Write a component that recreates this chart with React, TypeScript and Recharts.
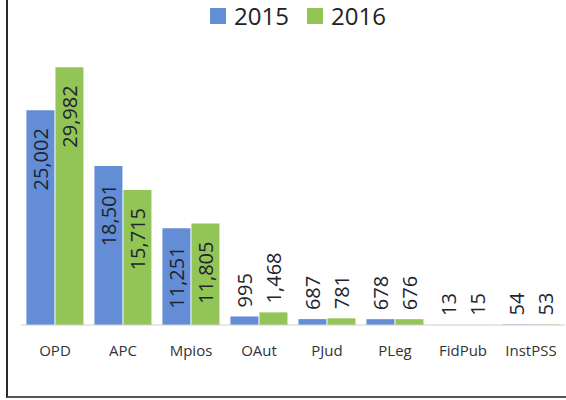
import { Bar, BarChart, LabelList, Legend, XAxis, YAxis } from "recharts";

const categories = ["OPD", "APC", "Mpios", "OAut", "PJud", "PLeg", "FidPub", "InstPSS"];
const values2015 = [25002, 18501, 11251, 995, 687, 678, 13, 54];
const values2016 = [29982, 15715, 11805, 1468, 781, 676, 15, 53];

const BLUE = "#638ed6";
const GREEN = "#93c456";
const FONT = "'Open Sans', sans-serif";

const data = categories.map((name, i) => ({
  name,
  y2015: values2015[i],
  y2016: values2016[i],
}));

function ValueLabel(props: any) {
  const { x, y, width, height, value } = props;
  const cx = x + width / 2;
  const inside = height > 60;
  const ty = inside ? y + 18 : y - 9;
  return (
    <text
      x={cx}
      y={ty}
      transform={`rotate(-90 ${cx} ${ty})`}
      textAnchor={inside ? "end" : "start"}
      dominantBaseline="central"
      fontFamily={FONT}
      fontSize={20}
      fill="#1e2430"
    >
      {Number(value).toLocaleString("en-US")}
    </text>
  );
}

function LegendContent(props: any) {
  const { payload } = props;
  return (
    <div style={{ display: "flex", justifyContent: "center", alignItems: "center", fontFamily: FONT, paddingLeft: 30 }}>
      {payload.map((p: any, i: number) => (
        <div key={p.value} style={{ display: "flex", alignItems: "center", marginLeft: i > 0 ? 18 : 0 }}>
          <span style={{ width: 16, height: 16, background: p.color, display: "inline-block", marginRight: 8 }} />
          <span style={{ fontSize: 24, color: "#222", lineHeight: "28px" }}>{p.value}</span>
        </div>
      ))}
    </div>
  );
}

export default function App() {
  return (
    <div style={{ position: "absolute", left: 0, top: 0, width: 566, height: 400, overflow: "hidden", background: "#fff" }}>
      <div
        style={{
          position: "absolute",
          left: 6,
          top: -5,
          width: 620,
          height: 401,
          borderLeft: "2px solid #2a2a2a",
          borderBottom: "2px solid #555",
        }}
      />
      <BarChart
        width={566}
        height={400}
        data={data}
        margin={{ top: 22, right: 1, left: 21, bottom: 0 }}
        barCategoryGap="8%"
        barGap={1}
        style={{ position: "absolute", left: 0, top: 0 }}
      >
        <XAxis
          dataKey="name"
          axisLine={{ stroke: "#d0d0d0" }}
          tickLine={false}
          height={75}
          tickMargin={14}
          tick={{ fontFamily: FONT, fontSize: 15, fill: "#333" }}
          interval={0}
        />
        <YAxis hide domain={[0, 32000]} />
        <Legend
          verticalAlign="top"
          content={<LegendContent />}
          wrapperStyle={{ position: "absolute", top: 2, left: 0, width: 566 }}
        />
        <Bar dataKey="y2015" name="2015" fill={BLUE} isAnimationActive={false}>
          <LabelList dataKey="y2015" content={<ValueLabel />} />
        </Bar>
        <Bar dataKey="y2016" name="2016" fill={GREEN} isAnimationActive={false}>
          <LabelList dataKey="y2016" content={<ValueLabel />} />
        </Bar>
      </BarChart>
    </div>
  );
}
